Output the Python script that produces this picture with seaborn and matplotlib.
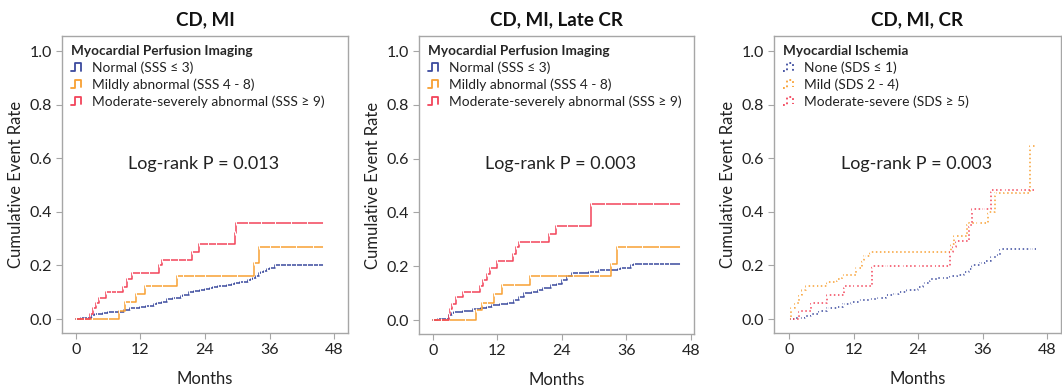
import numpy as np
import pandas as pd
import matplotlib
matplotlib.use("Agg")
import matplotlib.pyplot as plt
import seaborn as sns
from matplotlib.lines import Line2D
from matplotlib.legend_handler import HandlerBase

# ---- data (months, cumulative event rate) ----
# panel 1: CD, MI
p1_normal_t = [0, 1, 2, 3, 3.5, 4, 5, 6, 7, 8, 9, 10, 11, 12, 13, 13.5, 14.5, 15, 16, 17,
               18, 18.5, 19.5, 20, 21, 22, 23, 24, 25, 25.5, 26.5, 27, 28, 29, 29.5, 30.5, 31, 32, 32.5, 33,
               33.5, 34, 34.5, 35, 35.5, 36, 37, 38, 39, 40, 41, 42, 43, 44, 45, 46]
p1_normal_r = [0, .003, .005, .015, .018, .02, .022, .025, .025, .028, .033, .04, .042, .045, .048, .05, .055, .06, .065, .075,
               .078, .08, .085, .09, .10, .105, .11, .113, .116, .12, .123, .125, .128, .13, .133, .137, .14, .145, .15, .155,
               .16, .17, .175, .18, .185, .19, .20, .20, .20, .20, .20, .20, .20, .20, .20, .20]
p1_mild_t = [0, 3, 6, 8.0, 9.1, 10, 11.2, 12.8, 14, 16, 18.7, 20, 22, 24, 27, 30, 33.1, 34.1, 36, 38, 41, 44, 46]
p1_mild_r = [0, 0, 0, .03, .065, .065, .095, .125, .125, .125, .16, .16, .16, .16, .16, .16, .21, .27, .27, .27, .27, .27, .27]
p1_mod_t = [0, 1.5, 2.7, 3.2, 3.7, 4.2, 5.5, 6.5, 7.5, 8.8, 9.5, 10.5, 12, 13.5, 15.5, 16, 17.5, 19, 20.5, 21.5,
            22.8, 24.5, 26, 28, 29.5, 29.7, 32, 34.5, 37, 40, 43, 46]
p1_mod_r = [0, 0, .02, .04, .06, .08, .10, .10, .10, .12, .15, .17, .17, .17, .20, .22, .22, .22, .22, .25,
            .28, .28, .28, .28, .32, .36, .36, .36, .36, .36, .36, .36]

# panel 2: CD, MI, Late CR
p2_normal_t = [0, 1, 2.5, 3, 3.5, 4, 5.5, 7.5, 9, 10, 11, 12.5, 14, 15, 16, 17, 18.5, 19.5, 20.5, 22,
               23, 24, 25, 25.8, 27, 29, 30, 31, 32, 33, 34.5, 35, 36, 36.9, 37.5, 39, 40, 41, 42, 43, 44, 46]
p2_normal_r = [0, .002, .005, .02, .025, .03, .035, .04, .045, .05, .055, .06, .065, .075, .085, .10, .105, .11, .12, .13,
               .135, .15, .165, .175, .175, .18, .18, .185, .185, .185, .19, .195, .195, .205, .21, .21, .21, .21, .21, .21,
               .21, .21]
p2_mild_t = [0, 3, 6, 8.0, 9.1, 10, 11.3, 12.9, 15, 18, 20, 23, 26, 29, 31, 33.1, 34.2, 36, 39, 42, 46]
p2_mild_r = [0, 0, 0, .036, .064, .064, .095, .129, .129, .163, .163, .163, .163, .163, .163, .21, .272, .272, .272, .272, .272]
p2_mod_t = [0, 1.5, 2.9, 3.2, 3.6, 4.2, 5.5, 7, 8.8, 9.3, 10, 10.6, 11.9, 13.5, 14.9, 15.5, 16, 18, 20, 21.6,
            22.9, 25, 27, 29.5, 32, 35, 38, 41, 44, 46]
p2_mod_r = [0, 0, .02, .04, .06, .085, .105, .105, .125, .15, .17, .195, .22, .22, .245, .27, .29, .29, .29, .32,
            .35, .35, .35, .43, .43, .43, .43, .43, .43, .43]

# panel 3: CD, MI, CR
p3_none_t = [0, 1, 2, 3, 4, 5.5, 7, 8, 9, 10, 11.5, 13, 15, 16.5, 18, 19.5, 20.5, 22, 24, 25,
             26.3, 27.5, 28.5, 30, 31.5, 32.5, 33.5, 34, 35.5, 36.5, 37.5, 38.5, 39.3, 41, 43, 45, 46]
p3_none_r = [0, .003, .005, .01, .02, .03, .04, .04, .045, .055, .065, .07, .075, .08, .09, .095, .10, .11, .12, .135,
             .15, .153, .155, .16, .165, .175, .185, .20, .21, .215, .23, .24, .26, .26, .26, .26, .26]
p3_mild_t = [0, .3, 1.2, 1.8, 2.4, 3.2, 5, 7.1, 8.9, 9.9, 11, 12.5, 13.5, 14, 15.1, 18, 21, 24, 27, 30.1,
             30.6, 33.1, 35, 37.1, 38.4, 41, 44.9, 46]
p3_mild_r = [0, .04, .06, .09, .11, .125, .125, .14, .15, .165, .165, .19, .22, .235, .25, .25, .25, .25, .25, .28,
             .31, .36, .36, .40, .47, .47, .647, .647]
p3_mod_t = [0, 1.8, 4, 5.5, 7.1, 9, 10.2, 12, 15.4, 18, 21, 24, 27, 30, 30.5, 31, 33.4, 34, 36, 37.6, 40, 43, 46]
p3_mod_r = [0, .031, .06, .06, .091, .091, .124, .124, .199, .199, .199, .199, .199, .25, .27, .292, .35, .41, .41, .481,
            .481, .481, .481]

titles = ["CD, MI", "CD, MI, Late CR", "CD, MI, CR"]
pvalues = ["Log-rank P = 0.013", "Log-rank P = 0.003", "Log-rank P = 0.003"]
legend_titles = ["Myocardial Perfusion Imaging", "Myocardial Perfusion Imaging", "Myocardial Ischemia"]
mpi_labels = ["Normal (SSS \u2264 3)", "Mildly abnormal (SSS 4 - 8)", "Moderate-severely abnormal (SSS \u2265 9)"]
isch_labels = ["None (SDS \u2264 1)", "Mild (SDS 2 - 4)", "Moderate-severe (SDS \u2265 5)"]
x_ticks = [0, 12, 24, 36, 48]
y_ticks = [0.0, 0.2, 0.4, 0.6, 0.8, 1.0]

colors = ["#3b4a9e", "#f8a033", "#f2445a"]


def make_frame(series, labels):
    parts = []
    for (t, r), lab in zip(series, labels):
        parts.append(pd.DataFrame({"month": t, "rate": r, "group": lab}))
    return pd.concat(parts, ignore_index=True)


panels = [
    make_frame([(p1_normal_t, p1_normal_r), (p1_mild_t, p1_mild_r), (p1_mod_t, p1_mod_r)], mpi_labels),
    make_frame([(p2_normal_t, p2_normal_r), (p2_mild_t, p2_mild_r), (p2_mod_t, p2_mod_r)], mpi_labels),
    make_frame([(p3_none_t, p3_none_r), (p3_mild_t, p3_mild_r), (p3_mod_t, p3_mod_r)], isch_labels),
]
panel_labels = [mpi_labels, mpi_labels, isch_labels]
line_styles = ["-", "-", ":"]


class StepHandler(HandlerBase):
    # legend icon drawn as a small step, like the KM plot software does
    def create_artists(self, legend, orig_handle, xdescent, ydescent, width, height, fontsize, trans):
        xs = np.array([0, .3, .3, .75, .75]) * width - xdescent
        ys = np.array([0, 0, 1, 1, .1]) * height - ydescent
        ln = Line2D(xs, ys, color=orig_handle.get_color(), lw=1.3, ls=orig_handle.get_linestyle())
        ln.set_transform(trans)
        return [ln]


sns.set_theme(style="ticks")
plt.rcParams["font.family"] = ["Lato", "DejaVu Sans"]
plt.rcParams["axes.edgecolor"] = "#a6a6a6"
plt.rcParams["xtick.color"] = "#a6a6a6"
plt.rcParams["ytick.color"] = "#a6a6a6"
plt.rcParams["xtick.labelcolor"] = "#222222"
plt.rcParams["ytick.labelcolor"] = "#222222"

fig = plt.figure(figsize=(10.62, 3.92), dpi=100)
boxes = [
    [62 / 1062, 59 / 392, 286 / 1062, 297 / 392],
    [419 / 1062, 58 / 392, 275 / 1062, 298 / 392],
    [774 / 1062, 59 / 392, 287 / 1062, 297 / 392],
]
xlims = [(-2.6, 50.6), (-2.6, 48.6), (-2.8, 50.6)]

for i, df in enumerate(panels):
    ax = fig.add_axes(boxes[i])
    sns.lineplot(data=df, x="month", y="rate", hue="group", hue_order=panel_labels[i],
                 palette=colors, drawstyle="steps-post", linestyle=line_styles[i],
                 linewidth=1.1, marker="|", markersize=3, markeredgewidth=0.7,
                 estimator=None, sort=False, legend=False, ax=ax)
    ax.set_xlim(*xlims[i])
    ax.set_ylim(-0.052, 1.056)
    ax.set_xticks(x_ticks)
    ax.set_yticks(y_ticks)
    ax.set_yticklabels([f"{v:.1f}" for v in y_ticks])
    ax.tick_params(labelsize=11.5, length=4, width=0.8, pad=3)
    for sp in ax.spines.values():
        sp.set_linewidth(1.0)
    ax.set_xlabel("Months", fontsize=12, color="#222222", labelpad=10)
    ax.set_ylabel("Cumulative Event Rate", fontsize=12, color="#222222", labelpad=4)
    ax.set_title(titles[i], fontsize=13.5, fontweight="bold", color="#111111", pad=8)
    ax.text(23.8, 0.58, pvalues[i], fontsize=13, ha="center", va="center", color="#222222")

    handles = [Line2D([], [], color=c, ls=line_styles[i]) for c in colors]
    leg = ax.legend(handles, panel_labels[i], title=legend_titles[i], loc="upper left",
                    frameon=False, fontsize=9.9, title_fontsize=9.8, alignment="left",
                    handlelength=1.0, handleheight=0.6, handletextpad=0.5, labelspacing=0.32,
                    borderaxespad=0.35, borderpad=0.3,
                    handler_map={Line2D: StepHandler()})
    leg.get_title().set_fontweight("bold")
    for txt in leg.get_texts():
        txt.set_color("#222222")

fig.savefig("out.png", dpi=100)
